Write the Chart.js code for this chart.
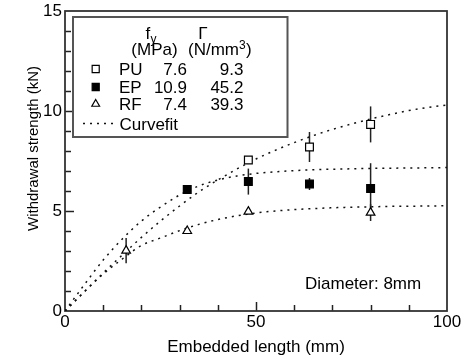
<!DOCTYPE html>
<html><head><meta charset="utf-8">
<script src="https://cdn.jsdelivr.net/npm/chart.js@4.4.1/dist/chart.umd.min.js"></script>
<style>html,body{margin:0;padding:0;background:#fff}canvas{display:block}</style>
</head><body>
<canvas id="c" width="462" height="360" style="width:462px;height:360px"></canvas>
<script>
// ---- data ----
const curveX  = [0,5,10,15,20,25,30,35,40,45,50,55,60,65,70,75,80,85,90,95,100];
const puCurve = [0,0.95,1.9,2.8,3.68,4.5,5.25,5.95,6.55,7.1,7.6,8.03,8.42,8.77,9.08,9.35,9.6,9.82,10.02,10.18,10.3];
const epCurve = [0,1.3,2.55,3.6,4.5,5.2,5.8,6.25,6.55,6.75,6.88,6.96,7.02,7.06,7.09,7.11,7.13,7.14,7.15,7.16,7.17];
const rfCurve = [0,0.95,1.85,2.6,3.28,3.65,4.02,4.33,4.57,4.76,4.9,5.0,5.07,5.12,5.16,5.19,5.21,5.23,5.24,5.25,5.26];

const puX = [48,64,80],    puY = [7.55,8.2,9.33],       puErr = [0,0.75,0.9];
const epX = [32,48,64,80], epY = [6.08,6.47,6.35,6.12], epErr = [0.15,0.65,0.3,1.27];
const rfX = [16,32,48,80], rfY = [3.02,4.0,4.97,4.92],  rfErr = [0.63,0.12,0.08,0.42];

const seriesNames = ['PU','EP','RF'];
const fyValues    = ['7.6','10.9','7.4'];
const gammaValues = ['9.3','45.2','39.3'];
const curveLabel  = 'Curvefit';
const xTitle = 'Embedded length (mm)';
const yTitle = 'Withdrawal strength (kN)';
const note = 'Diameter: 8mm';

// ---- chart ----
const FONT = "'Liberation Sans', Arial, Helvetica, sans-serif";
const pts = (xs, ys) => xs.map((x, i) => ({x: x, y: ys[i]}));
const DASH = [2, 5];
const curveStyle = {showLine: true, pointRadius: 0, pointHoverRadius: 0, borderColor: '#111', borderWidth: 1.5, borderDash: DASH, fill: false, cubicInterpolationMode: 'monotone'};

const errSets = [
  {xs: puX, ys: puY, es: puErr},
  {xs: epX, ys: epY, es: epErr},
  {xs: rfX, ys: rfY, es: rfErr}
];

function drawMarker(ctx, style, x, y, r, fill) {
  ctx.save();
  ctx.lineWidth = 1.2; ctx.strokeStyle = '#000'; ctx.fillStyle = fill;
  ctx.beginPath();
  if (style === 'rect') {
    const s = r * Math.SQRT1_2;
    ctx.rect(x - s, y - s, 2 * s, 2 * s);
  } else {
    ctx.moveTo(x, y - r);
    ctx.lineTo(x + r * Math.sin(Math.PI * 2 / 3), y - r * Math.cos(Math.PI * 2 / 3));
    ctx.lineTo(x + r * Math.sin(Math.PI * 4 / 3), y - r * Math.cos(Math.PI * 4 / 3));
    ctx.closePath();
  }
  ctx.fill(); ctx.stroke();
  ctx.restore();
}

const framePlugin = {
  id: 'frame',
  beforeDatasetsDraw(chart) {
    const {ctx, chartArea: a, scales: {x, y}} = chart;
    ctx.save();
    ctx.strokeStyle = '#222';
    ctx.lineWidth = 1.5;
    // minor / major ticks pointing inward
    for (let v = 1; v < 15; v++) {
      const py = Math.round(y.getPixelForValue(v)) + 0.5;
      const len = v % 5 === 0 ? 9 : 6;
      ctx.beginPath(); ctx.moveTo(a.left, py); ctx.lineTo(a.left + len, py); ctx.stroke();
    }
    for (let v = 10; v < 100; v += 10) {
      const px = Math.round(x.getPixelForValue(v)) + 0.5;
      const len = v % 50 === 0 ? 9 : 6;
      ctx.beginPath(); ctx.moveTo(px, a.bottom); ctx.lineTo(px, a.bottom - len); ctx.stroke();
    }
    ctx.lineWidth = 1.8;
    ctx.strokeStyle = '#333';
    ctx.strokeRect(a.left, a.top, a.right - a.left, a.bottom - a.top);
    // error bars
    ctx.strokeStyle = '#222';
    ctx.lineWidth = 1.5;
    errSets.forEach(s => {
      s.xs.forEach((xv, i) => {
        if (!s.es[i]) return;
        const px = x.getPixelForValue(xv);
        ctx.beginPath();
        ctx.moveTo(px, y.getPixelForValue(s.ys[i] - s.es[i]));
        ctx.lineTo(px, y.getPixelForValue(s.ys[i] + s.es[i]));
        ctx.stroke();
      });
    });
    ctx.restore();
  },
  afterDraw(chart) {
    const {ctx} = chart;
    ctx.save();
    // legend box
    const L = 73, T = 17, R = 287.5, B = 137;
    ctx.fillStyle = '#fff';
    ctx.fillRect(L, T, R - L, B - T);
    ctx.strokeStyle = '#555'; ctx.lineWidth = 2;
    ctx.strokeRect(L, T, R - L, B - T);
    ctx.fillStyle = '#000';
    ctx.textBaseline = 'alphabetic';
    ctx.font = '17px ' + FONT;
    // headers
    ctx.textAlign = 'left';
    ctx.fillText('f', 145.5, 39);
    ctx.font = '12px ' + FONT;
    ctx.fillText('y', 150.5, 43);
    ctx.font = '17px ' + FONT;
    ctx.textAlign = 'center';
    ctx.fillText('\u0393', 203, 39);
    ctx.fillText('(MPa)', 154.5, 55);
    ctx.textAlign = 'left';
    ctx.fillText('(N/mm', 188, 55);
    const w = ctx.measureText('(N/mm').width;
    ctx.font = '12px ' + FONT;
    ctx.fillText('3', 188 + w, 49);
    ctx.font = '17px ' + FONT;
    ctx.fillText(')', 188 + w + 7, 55);
    // rows
    const rowY = [69, 87, 104];
    const styles = [['rect', '#fff'], ['rect', '#000'], ['tri', '#fff']];
    seriesNames.forEach((n, i) => {
      drawMarker(ctx, styles[i][0], 95.7, rowY[i], styles[i][0] === 'rect' ? 5 : 4.5, styles[i][1]);
      ctx.fillStyle = '#000';
      ctx.textAlign = 'left';
      ctx.fillText(n, 119, rowY[i] + 6.3);
      ctx.textAlign = 'right';
      ctx.fillText(fyValues[i], 187, rowY[i] + 6.3);
      ctx.fillText(gammaValues[i], 243.5, rowY[i] + 6.3);
    });
    // curvefit sample
    ctx.strokeStyle = '#111'; ctx.lineWidth = 1.5; ctx.setLineDash(DASH);
    ctx.beginPath(); ctx.moveTo(83, 123.5); ctx.lineTo(117, 123.5); ctx.stroke();
    ctx.setLineDash([]);
    ctx.textAlign = 'left';
    ctx.fillText(curveLabel, 119.5, 129.5);
    // note
    ctx.fillText(note, 305, 288.5);
    ctx.restore();
  }
};

new Chart(document.getElementById('c'), {
  type: 'scatter',
  data: {
    datasets: [
      {label: 'PU', data: pts(puX, puY), pointStyle: 'rect', pointRadius: 5.5, pointHoverRadius: 5.5, backgroundColor: '#fff', borderColor: '#000', borderWidth: 1.2},
      {label: 'EP', data: pts(epX, epY), pointStyle: 'rect', pointRadius: 5.5, pointHoverRadius: 5.5, backgroundColor: '#000', borderColor: '#000', borderWidth: 1.2},
      {label: 'RF', data: pts(rfX, rfY), pointStyle: 'triangle', pointRadius: 5, pointHoverRadius: 5, backgroundColor: '#fff', borderColor: '#000', borderWidth: 1.2},
      Object.assign({label: 'PU fit', data: pts(curveX, puCurve)}, curveStyle),
      Object.assign({label: 'EP fit', data: pts(curveX, epCurve)}, curveStyle),
      Object.assign({label: 'RF fit', data: pts(curveX, rfCurve)}, curveStyle)
    ]
  },
  options: {
    responsive: false,
    animation: false,
    devicePixelRatio: 1,
    layout: {padding: {top: 11, right: 15, left: 0, bottom: 0}},
    plugins: {legend: {display: false}, tooltip: {enabled: false}},
    scales: {
      x: {
        type: 'linear', min: 0, max: 100,
        ticks: {stepSize: 50, color: '#000', font: {family: FONT, size: 17}, padding: 1, maxRotation: 0},
        grid: {display: false, drawTicks: false},
        border: {display: false},
        title: {display: true, text: xTitle, color: '#000', font: {family: FONT, size: 17}, padding: {top: 0, bottom: 2}},
        afterFit: s => { s.height = 49; s.paddingLeft = 0; s.paddingRight = 0; }
      },
      y: {
        type: 'linear', min: 0, max: 15,
        ticks: {stepSize: 5, color: '#000', font: {family: FONT, size: 17}, padding: 3},
        grid: {display: false, drawTicks: false},
        border: {display: false},
        title: {display: true, text: '      ' + yTitle, color: '#000', font: {family: FONT, size: 15}, padding: {top: 25, bottom: 0}},
        afterFit: s => { s.width = 65; s.paddingTop = 0; s.paddingBottom = 0; }
      }
    }
  },
  plugins: [framePlugin]
});
</script>
</body></html>
